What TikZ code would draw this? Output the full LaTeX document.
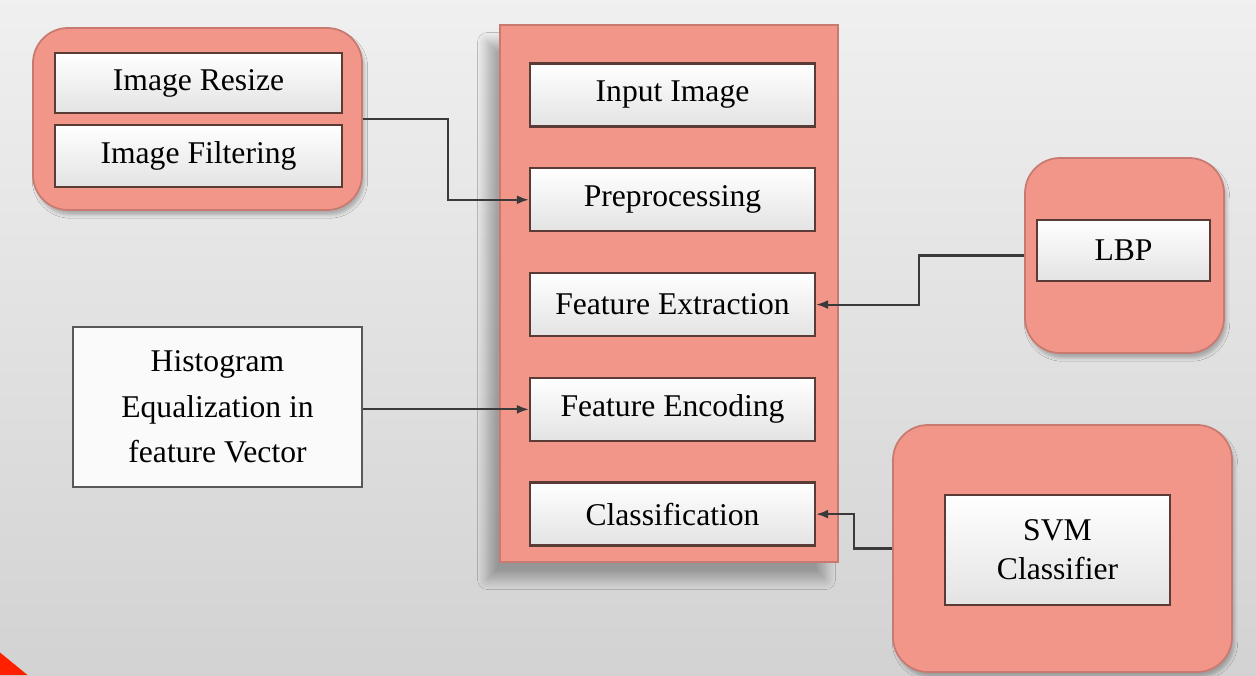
\documentclass[tikz,border=0pt]{standalone}
\usepackage{fontspec}
\setmainfont{Liberation Serif}
\usepackage{tikz}
\usetikzlibrary{arrows.meta, positioning, calc, shadows.blur}

\definecolor{salmon}{HTML}{F2968A}
\definecolor{salmonedge}{HTML}{C97A70}
\definecolor{boxedge}{HTML}{5B3B36}
\definecolor{wireclr}{HTML}{3A3A3A}

\begin{document}
\begin{tikzpicture}[
    font=\fontsize{18}{22}\selectfont,
    group/.style={draw=salmonedge, line width=1pt, fill=salmon, rounded corners=0.7cm,
      blur shadow={shadow xshift=0.05cm, shadow yshift=-0.1cm, shadow opacity=25}},
    stepbox/.style={draw=boxedge, line width=1.3pt, top color=white, bottom color=gray!22,
      minimum width=5.7cm, minimum height=1.26cm, inner sep=2pt},
    plainbox/.style={draw=gray!70!black, line width=1.3pt, fill=white!96!gray,
      align=center, inner sep=2pt},
    conn/.style={draw=wireclr, line width=1.2pt, -{Latex[length=2.4mm,width=1.8mm]}}
  ]
  \useasboundingbox (0,0) rectangle (25.12,13.5);
  % slide background
  \shade[top color=gray!12, bottom color=gray!35] (0,0) rectangle (25.12,13.5);
  \fill[red!75!orange] (0,0) -- (0.55,0) -- (0,0.45) -- cycle;

  % main pipeline
  \node[draw=salmonedge, line width=1pt, fill=salmon, minimum width=6.76cm, minimum height=10.74cm,
    blur shadow={shadow xshift=-0.25cm, shadow yshift=-0.35cm, shadow opacity=30,
      shadow blur radius=0.2cm, shadow blur steps=10}]
    (pipeline) at (13.38,7.63) {};
  \node[stepbox] (input) at (13.45,11.6) {Input Image};
  \node[stepbox, below=0.79cm of input] (prep) {Preprocessing};
  \node[stepbox, below=0.79cm of prep] (extract) {Feature Extraction};
  \node[stepbox, below=0.79cm of extract] (encode) {Feature Encoding};
  \node[stepbox, below=0.79cm of encode] (classif) {Classification};

  % preprocessing steps
  \node[group, minimum width=6.58cm, minimum height=3.64cm] (imggroup) at (3.95,11.12) {};
  \node[stepbox, minimum width=5.74cm, minimum height=1.2cm] (resize) at (3.97,11.84) {Image Resize};
  \node[stepbox, minimum width=5.74cm, minimum height=1.24cm] (filter) at (3.97,10.38) {Image Filtering};

  % feature extractor
  \node[group, minimum width=3.98cm, minimum height=3.9cm] (lbpgroup) at (22.49,8.39) {};
  \node[stepbox, minimum width=3.46cm, minimum height=1.22cm] (lbp) at (22.47,8.49) {LBP};

  % encoding
  \node[plainbox, font=\fontsize{18}{26}\selectfont, minimum width=5.78cm, minimum height=3.2cm]
    (hist) at (4.35,5.36) {Histogram\\Equalization in\\feature Vector};

  % classifier
  \node[group, minimum width=6.78cm, minimum height=4.94cm] (svmgroup) at (21.25,2.53) {};
  \node[stepbox, align=center, font=\fontsize{18}{22}\selectfont, minimum width=4.5cm,
    minimum height=2.2cm] (svm) at (21.15,2.5) {SVM\\Classifier};

  % connectors
  \draw[conn] (imggroup.east) -- ++(1.7,0) |- (prep.west);
  \draw[conn] (lbpgroup.west) -- ++(-2.1,0) |- (extract.east);
  \draw[conn] (hist.east |- encode.west) -- (encode.west);
  \draw[conn] (svmgroup.west) -- ++(-0.76,0) |- (classif.east);
\end{tikzpicture}
\end{document}
